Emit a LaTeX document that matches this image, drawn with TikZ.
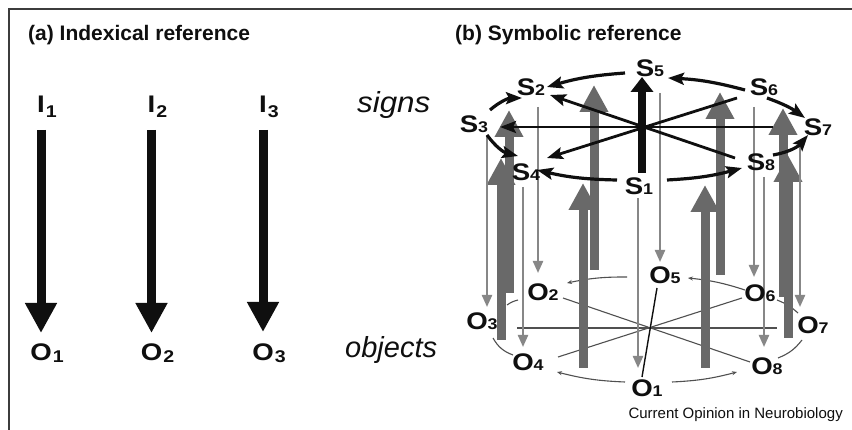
\documentclass[tikz,border=0pt]{standalone}
\usepackage{fontspec}
\setmainfont{Liberation Sans}
\usetikzlibrary{arrows.meta}
\definecolor{tgrey}{RGB}{135,135,135}
\definecolor{kgrey}{RGB}{105,105,105}
\definecolor{ogrey}{RGB}{80,80,80}
\definecolor{ink}{RGB}{15,15,15}
\definecolor{framec}{RGB}{60,60,60}
\newcommand{\slab}[2]{\scalebox{1.15}[1]{\fontsize{24}{24}\selectfont\bfseries #1\rlap{\fontsize{15.5}{15.5}\selectfont #2}}}
\newcommand{\alab}[3]{\scalebox{1.15}[1]{\fontsize{24}{24}\selectfont\bfseries #1\rlap{\hspace{1pt}\raisebox{-#3pt}{\fontsize{17}{17}\selectfont #2}}}}
\tikzset{
  lab/.style={inner sep=0pt, outer sep=0pt, anchor=base, text=ink},
  titletext/.style={inner sep=0pt, anchor=base west, font=\fontsize{21}{21}\selectfont\bfseries, text=ink},
  wordtext/.style={inner sep=0pt, anchor=base west, font=\fontsize{29}{29}\selectfont\itshape, text=ink},
  bigarrow/.style={draw=ink, line width=9pt, -{Triangle[width=30pt,length=30pt]}},
  thickg/.style={draw=kgrey, line width=9pt, -{Triangle[width=27pt,length=27pt]}},
  thing/.style={draw=tgrey, line width=2.2pt, -{Triangle[width=10pt,length=12pt]}},
  stararrow/.style={draw=ink, line width=2.8pt, -{Stealth[length=16pt,width=12pt,inset=3pt]}},
  ringarrow/.style={draw=ink, line width=3.2pt, -{Stealth[length=16pt,width=12pt,inset=3pt]}},
  oline/.style={draw=ogrey, line width=1.1pt},
  oarrow/.style={draw=ogrey, line width=1.1pt, -{Stealth[length=5pt,width=4pt]}},
}
\begin{document}
\begin{tikzpicture}[x=1pt,y=-1pt]
\useasboundingbox (0,0) rectangle (852,430);
\clip (0,0) rectangle (852,430);
\fill[white] (0,0) rectangle (852,430);
\draw[framec, line width=1.3pt] (9,9) rectangle (900,480);

% titles
\node[titletext] (ta) at (28,41) {(a) Indexical reference};
\node[titletext] (tb) at (455,41) {(b) Symbolic reference};
\node[wordtext] (signs) at (357,113) {\scalebox{1.08}[1]{signs}};
\node[wordtext] (objects) at (345,358) {objects};
\node[inner sep=0pt, anchor=base east, font=\fontsize{15}{15}\selectfont, text=ink] (credit) at (843,418) {Current Opinion in Neurobiology};

% panel a
\node[lab] (i1) at (41,113) {\alab{I}{1}{5}};
\node[lab] (i2) at (151.5,113) {\alab{I}{2}{5}};
\node[lab] (i3) at (263,113) {\alab{I}{3}{5}};
\node[lab] (o1) at (41,361) {\alab{O}{1}{2}};
\node[lab] (o2) at (151.5,361) {\alab{O}{2}{2}};
\node[lab] (o3) at (263,361) {\alab{O}{3}{2}};
\draw[bigarrow] ([yshift=-17pt]i1.base) -- ([yshift=28pt]o1.base);
\draw[bigarrow] ([yshift=-17pt]i2.base) -- ([yshift=28pt]o2.base);
\draw[bigarrow] ([yshift=-17pt]i3.base) -- ([yshift=29pt]o3.base);

% panel b : object-level lines
\coordinate (p3r) at (517,328); \coordinate (p7l) at (777,328);
\coordinate (p2r) at (563,298); \coordinate (p8l) at (750,362);
\coordinate (p4r) at (558,357); \coordinate (p6l) at (742,298);
\draw[oline] (p3r) -- (p7l);
\draw[oline] (p2r) -- (p8l);
\draw[oline] (p4r) -- (p6l);
\coordinate (p5l) at (627,277); \coordinate (p2t) at (567,283);
\coordinate (p6t) at (745,290); \coordinate (p5r) at (688,278);
\coordinate (p6b) at (777,300); \coordinate (p7t) at (798,313);
\coordinate (p8r) at (778,358); \coordinate (p7b) at (802,340);
\coordinate (p1r) at (672,382); \coordinate (p8b) at (737,372);
\coordinate (p1l) at (625,382); \coordinate (p4b) at (557,372);
\coordinate (p3b) at (493,338); \coordinate (p4l) at (513,355);
\coordinate (p3t) at (507,305); \coordinate (p2l) at (518,300);
\draw[oarrow] (p5l) to[bend right=6] (p2t);
\draw[oarrow] (p6t) to[bend right=6] (p5r);
\draw[oline] (p6b) to[bend left=10] (p7t);
\draw[oline] (p8r) to[bend right=15] (p7b);
\draw[oarrow] (p1r) to[bend right=6] (p8b);
\draw[oarrow] (p1l) to[bend left=6] (p4b);
\draw[oline] (p3b) to[bend right=20] (p4l);
\draw[oline] (p3t) to[bend left=10] (p2l);

% thick grey arrows (back)
\coordinate (ga1) at (509,293); \coordinate (gb1) at (509,110);
\coordinate (ga2) at (594,270); \coordinate (gb2) at (594,85);
\coordinate (ga3) at (720,275); \coordinate (gb3) at (720,92);
\coordinate (ga4) at (783,297); \coordinate (gb4) at (783,108);
\draw[thickg] (ga1) -- (gb1);
\draw[thickg] (ga2) -- (gb2);
\draw[thickg] (ga3) -- (gb3);
\draw[thickg] (ga4) -- (gb4);
% thick grey arrows (front)
\coordinate (ga5) at (501,340); \coordinate (gb5) at (501,158);
\coordinate (ga6) at (583,368); \coordinate (gb6) at (583,183);
\coordinate (ga7) at (705,368); \coordinate (gb7) at (705,185);
\coordinate (ga8) at (788,338); \coordinate (gb8) at (788,155);
\draw[thickg] (ga5) -- (gb5);
\draw[thickg] (ga6) -- (gb6);
\draw[thickg] (ga7) -- (gb7);
\draw[thickg] (ga8) -- (gb8);

% thin grey arrows
\coordinate (ta3) at (487,135); \coordinate (tb3) at (487,307);
\coordinate (ta2) at (538,107); \coordinate (tb2) at (538,273);
\coordinate (ta4) at (523,187); \coordinate (tb4) at (523,347);
\coordinate (ta5) at (660,93);  \coordinate (tb5) at (660,262);
\coordinate (ta1) at (638,198); \coordinate (tb1) at (638,368);
\coordinate (ta6) at (754,107); \coordinate (tb6) at (754,277);
\coordinate (ta8) at (764,177); \coordinate (tb8) at (764,347);
\coordinate (ta7) at (800,140); \coordinate (tb7) at (800,307);
\foreach \k in {1,...,8} {\draw[thing] (ta\k) -- (tb\k);}

% O5 - O1 line
\coordinate (p5b) at (657,288); \coordinate (p1t) at (642,377);
\draw[ink, line width=1.4pt] (p5b) -- (p1t);

% sign-level black arrows
\coordinate (q1t) at (642,173); \coordinate (q5b) at (642,77);
\draw[draw=ink, line width=8pt, -{Triangle[width=22pt,length=15pt]}] (q1t) -- (q5b);
\coordinate (q7l) at (773,127); \coordinate (q3r) at (500,127);
\coordinate (q6l) at (737,98);  \coordinate (q4r) at (547,158);
\coordinate (q8l) at (735,158); \coordinate (q2r) at (550,95);
\draw[stararrow] (q7l) -- (q3r);
\draw[stararrow] (q6l) -- (q4r);
\draw[stararrow] (q8l) -- (q2r);
\coordinate (q5l) at (625,73);  \coordinate (q2a) at (547,87);
\coordinate (q6a) at (745,90);  \coordinate (q5a) at (668,78);
\coordinate (q6b) at (767,98);  \coordinate (q7a) at (805,118);
\coordinate (q8a) at (773,155); \coordinate (q7b) at (808,135);
\coordinate (q1r) at (667,180); \coordinate (q8b) at (742,168);
\coordinate (q1l) at (617,180); \coordinate (q4a) at (537,170);
\coordinate (q3a) at (487,135); \coordinate (q4b) at (518,156);
\coordinate (q3b) at (490,110); \coordinate (q2b) at (522,98);
\draw[ringarrow] (q5l) to[bend right=6] (q2a);
\draw[ringarrow] (q6a) to[bend right=6] (q5a);
\draw[ringarrow] (q6b) to[bend left=8] (q7a);
\draw[ringarrow] (q8a) to[bend right=20] (q7b);
\draw[ringarrow] (q1r) to[bend right=6] (q8b);
\draw[ringarrow] (q1l) to[bend left=6] (q4a);
\draw[ringarrow] (q3a) to[bend right=20] (q4b);
\draw[ringarrow] (q3b) to[bend left=20] (q2b);

% labels panel b
\node[lab] (s5) at (645,77) {\slab{S}{5}};
\node[lab] (s2) at (526,96) {\slab{S}{2}};
\node[lab] (s3) at (469,133) {\slab{S}{3}};
\node[lab] (s4) at (521,181) {\slab{S}{4}};
\node[lab] (s1) at (634,195) {\slab{S}{1}};
\node[lab] (s8) at (756,171) {\slab{S}{8}};
\node[lab] (s7) at (813,136) {\slab{S}{7}};
\node[lab] (s6) at (759,96) {\slab{S}{6}};
\node[lab] (ob5) at (660,284) {\slab{O}{5}};
\node[lab] (ob2) at (538,301) {\slab{O}{2}};
\node[lab] (ob3) at (477,330) {\slab{O}{3}};
\node[lab] (ob4) at (523,371) {\slab{O}{4}};
\node[lab] (ob1) at (642,396) {\slab{O}{1}};
\node[lab] (ob8) at (762,375) {\slab{O}{8}};
\node[lab] (ob7) at (808,334) {\slab{O}{7}};
\node[lab] (ob6) at (755,302) {\slab{O}{6}};
\end{tikzpicture}
\end{document}
